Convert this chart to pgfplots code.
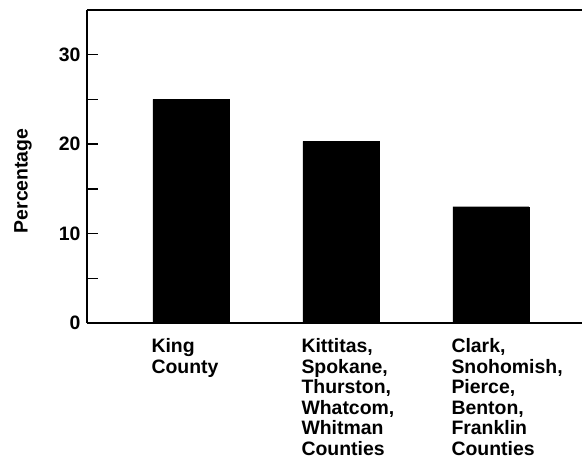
\documentclass[border=0pt]{standalone}
\usepackage{pgfplots}
\pgfplotsset{compat=1.18}
\usepackage{fontspec}
\setmainfont{Liberation Sans}
\newcommand{\lblfont}{\bfseries\fontsize{19.5}{20.6}\selectfont}
\begin{document}
\begin{tikzpicture}
\path[use as bounding box] (-87bp,-142bp) rectangle (495bp,323bp);
\begin{axis}[
  at={(0,0)}, anchor=south west,
  scale only axis,
  width=495bp, height=313bp,
  xmin=-0.6933, xmax=2.6067,
  ymin=0, ymax=35,
  axis x line=box, axis y line=left,
  axis line style={-, line width=1.5bp},
  ytick={0,10,20,30},
  minor ytick={5,15,25},
  tick align=inside,
  major tick length=11bp, minor tick length=11bp,
  every tick/.style={black, line width=1.3bp},
  xtick={0,1,2},
  major x tick style={draw=none},
  xticklabels={{King\\County},{Kittitas,\\Spokane,\\Thurston,\\Whatcom,\\Whitman\\Counties},{Clark,\\Snohomish,\\Pierce,\\Benton,\\Franklin\\Counties}},
  xticklabel style={anchor=north west, align=left, font=\lblfont, xshift=-43bp, yshift=-1bp},
  yticklabel style={font=\lblfont, xshift=-3bp},
  /pgf/number format/assume math mode=true,
  ylabel={Percentage},
  ylabel style={font=\lblfont, at={(axis description cs:-0.1293,0.454)}, anchor=center},
  ybar, bar width=76bp, bar shift=0pt,
]
\addplot[fill=black, draw=black] coordinates {(0,25) (1,20.3) (2,13)};
\end{axis}
\end{tikzpicture}
\end{document}
